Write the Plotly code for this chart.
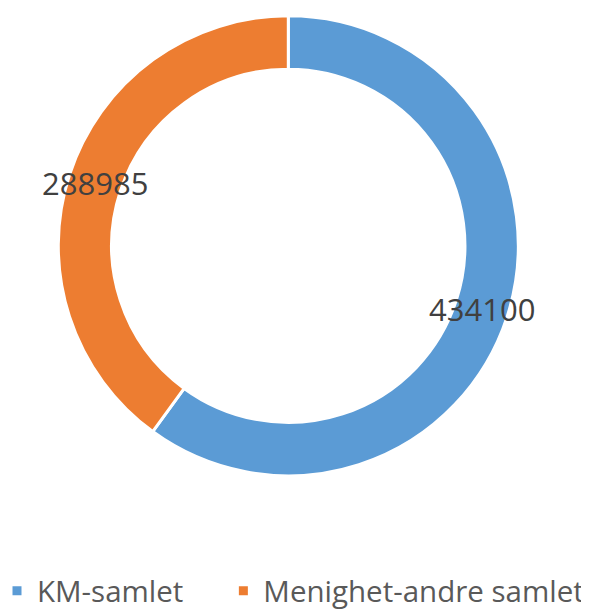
import numpy as np
import plotly.graph_objects as go

labels = ["KM-samlet", "Menighet-andre samlet"]
values = [434100, 288985]
colors = ["#5B9BD5", "#ED7D31"]

# the page adds an 8px body margin, so the figure is drawn 8px in;
# the figure is a little larger than the window so the legend fits on one row
PAGE_MARGIN = 8
W, H = 600, 620

# doughnut placement (figure pixels)
cx, cy = 288.3 - PAGE_MARGIN, 245.8 - PAGE_MARGIN
r_out = 230
hole = 0.768

# legend entries are spaced wider than plotly's default gap, so pad the first one
legend_labels = [labels[0] + "\u00a0" * 6, labels[1]]

fig = go.Figure()
fig.add_trace(
    go.Pie(
        labels=legend_labels,
        values=values,
        hole=hole,
        sort=False,
        direction="clockwise",
        rotation=0,
        marker=dict(colors=colors, line=dict(color="white", width=3)),
        textinfo="none",
        hoverinfo="label+value",
        domain=dict(
            x=[(cx - r_out) / W, (cx + r_out) / W],
            y=[1 - (cy + r_out) / H, 1 - (cy - r_out) / H],
        ),
    )
)

# value labels in the middle of the ring, at each slice's mid angle
total = sum(values)
r_mid = r_out * (1 + hole) / 2
start = 0.0
for v in values:
    frac = v / total
    mid = (start + frac / 2) * 2 * np.pi
    start += frac
    px = cx + r_mid * np.sin(mid)
    py = cy - r_mid * np.cos(mid)
    fig.add_annotation(
        x=px / W,
        y=1 - py / H,
        xref="paper",
        yref="paper",
        xanchor="center",
        yanchor="middle",
        text=str(v),
        showarrow=False,
        font=dict(family="Open Sans", size=31, color="#404040"),
    )

fig.update_layout(
    width=W,
    height=H,
    margin=dict(l=0, r=0, t=0, b=0),
    paper_bgcolor="white",
    plot_bgcolor="white",
    showlegend=True,
    legend=dict(
        orientation="h",
        x=0,
        xanchor="left",
        y=1 - 609 / H,
        yanchor="bottom",
        indentation=-11,
        font=dict(family="Open Sans", size=29.5, color="#595959"),
        traceorder="normal",
    ),
)

fig.write_html("out.html")
